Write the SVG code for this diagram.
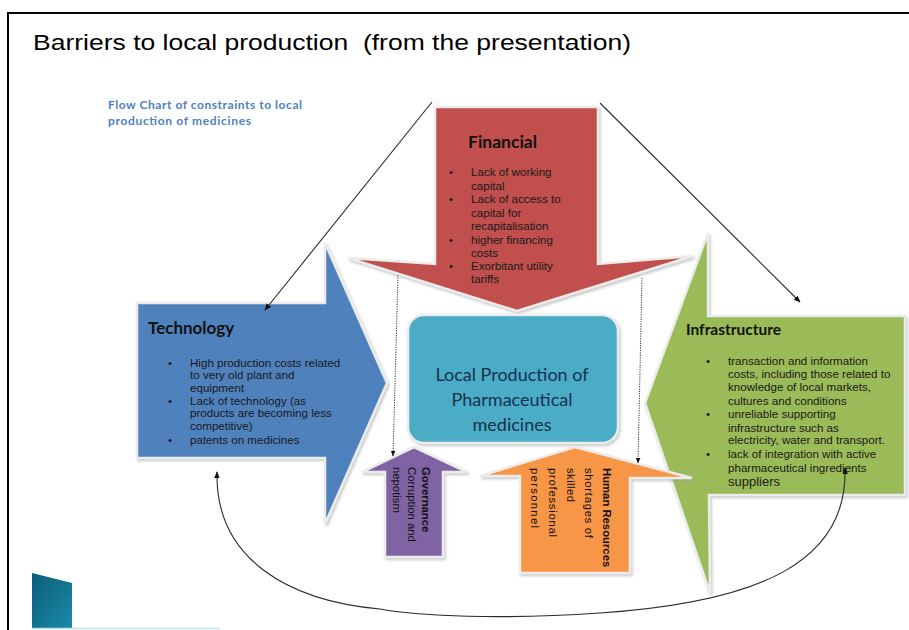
<svg xmlns="http://www.w3.org/2000/svg" width="909" height="630" viewBox="0 0 909 630">
<style>
.arial{font-family:"Liberation Sans",Arial,sans-serif;}
.cal{font-family:Lato,"Open Sans",sans-serif;}
.shape{stroke:#ececec;stroke-width:2.5;stroke-linejoin:miter;filter:url(#sh);}
.bt{font-family:"Liberation Sans",Arial,sans-serif;font-size:11.6px;fill:#1a1a1a;}
.head{font-family:Lato,"Open Sans",sans-serif;font-weight:bold;fill:#111;}
.rot{font-family:"Liberation Sans",Arial,sans-serif;font-size:11.3px;fill:#111;}
.conn{fill:none;stroke:#2a2a2a;stroke-width:1.1;}
.dot{fill:none;stroke:#333;stroke-width:1;stroke-dasharray:1.2 1.2;}
</style>
<defs>
<filter id="sh" x="-10%" y="-10%" width="130%" height="130%">
<feDropShadow dx="1.5" dy="2" stdDeviation="1" flood-color="#999" flood-opacity="0.5"/>
</filter>
<marker id="ah" viewBox="0 0 10 10" refX="9" refY="5" markerWidth="7" markerHeight="7" orient="auto-start-reverse" markerUnits="userSpaceOnUse">
<path d="M0,1 L10,5 L0,9z" fill="#111"/>
</marker>
<marker id="ahs" viewBox="0 0 10 10" refX="9" refY="5" markerWidth="6" markerHeight="6" orient="auto" markerUnits="userSpaceOnUse">
<path d="M0,1 L10,5 L0,9z" fill="#111"/>
</marker>
<linearGradient id="teal" x1="0" y1="0" x2="1" y2="1">
<stop offset="0" stop-color="#0b5d78"/>
<stop offset="1" stop-color="#1b8aa8"/>
</linearGradient>
</defs>
<rect width="909" height="630" fill="#fff"/>
<g id="frame">
<line x1="8" y1="13" x2="909" y2="13" stroke="#000" stroke-width="2"/>
<line x1="8" y1="12" x2="8" y2="630" stroke="#000" stroke-width="2"/>
</g>
<g id="title">
<text class="arial" x="33" y="50" font-size="22.5" textLength="598" lengthAdjust="spacingAndGlyphs" fill="#000">Barriers to local production&#160; (from the presentation)</text>
</g>
<g id="subtitle">
<text class="cal" x="108" y="109" font-size="12" font-weight="bold" fill="#4f81bd" textLength="194">Flow Chart of constraints to local</text>
<text class="cal" x="108" y="125" font-size="12" font-weight="bold" fill="#4f81bd" textLength="143">production of medicines</text>
</g>
<g id="logo">
<polygon points="32,573 72,583 72,628 32,628" fill="url(#teal)"/>
<line x1="32" y1="628.5" x2="220" y2="628.5" stroke="#bfe6ee" stroke-width="1.5"/>
</g>
<g id="financial">
<polygon class="shape" fill="#c0504d" points="435,107 598,107 598,264 693,256 517,311 348,258 435,264"/>
<text class="head" x="468" y="148" font-size="17.5">Financial</text>
<g class="bt">
<text x="449" y="176">•</text><text x="471" y="176">Lack of working</text>
<text x="471" y="190">capital</text>
<text x="449" y="203">•</text><text x="471" y="203">Lack of access to</text>
<text x="471" y="217">capital for</text>
<text x="471" y="230">recapitalisation</text>
<text x="449" y="244">•</text><text x="471" y="244">higher financing</text>
<text x="471" y="257">costs</text>
<text x="449" y="270">•</text><text x="471" y="270">Exorbitant utility</text>
<text x="471" y="283">tariffs</text>
</g>
</g>
<g id="technology">
<polygon class="shape" fill="#4f81bd" points="137,303 325,303 325,243 387,383 325,524 325,458 137,458"/>
<text class="head" x="148" y="334" font-size="17">Technology</text>
<g class="bt">
<text x="168" y="367">•</text><text x="190" y="367">High production costs related</text>
<text x="190" y="379">to very old plant and</text>
<text x="190" y="392">equipment</text>
<text x="168" y="405">•</text><text x="190" y="405">Lack of technology (as</text>
<text x="190" y="417">products are becoming less</text>
<text x="190" y="430">competitive)</text>
<text x="168" y="444">•</text><text x="190" y="444">patents on medicines</text>
</g>
</g>
<g id="infrastructure">
<polygon class="shape" fill="#9bbb59" points="905,316 905,495 709,495 710,593 645,403 708,233 708,316"/>
<text class="head" x="686" y="335" font-size="15.5">Infrastructure</text>
<g class="bt">
<text x="706" y="365">•</text><text x="728" y="365">transaction and information</text>
<text x="728" y="378">costs, including those related to</text>
<text x="728" y="391">knowledge of local markets,</text>
<text x="728" y="405">cultures and conditions</text>
<text x="706" y="418">•</text><text x="728" y="418">unreliable supporting</text>
<text x="728" y="432">infrastructure such as</text>
<text x="728" y="444">electricity, water and transport.</text>
<text x="706" y="458">•</text><text x="728" y="458">lack of integration with active</text>
<text x="728" y="472">pharmaceutical ingredients</text>
<text x="728" y="486" font-size="13">suppliers</text>
</g>
</g>
<g id="local-production">
<rect class="shape" x="408" y="315" width="210" height="128" rx="16" fill="#4bacc6"/>
<g class="cal" font-size="18" fill="#17304f" text-anchor="middle">
<text x="512" y="381">Local Production of</text>
<text x="512" y="406">Pharmaceutical</text>
<text x="512" y="431">medicines</text>
</g>
</g>
<g id="governance">
<polygon class="shape" fill="#8064a2" points="414,447 467,472 443,472 443,557 385,557 385,472 362,472"/>
<g transform="translate(422,467) rotate(90)">
<text class="rot" x="0" y="0" font-weight="bold">Governance</text>
<text class="rot" x="0" y="14.5">Corruption and</text>
<text class="rot" x="0" y="29">nepotism</text>
</g>
</g>
<g id="human-resources">
<polygon class="shape" fill="#f79646" points="575,447 692,478 630,478 630,573 520,573 520,476 480,476"/>
<g transform="translate(603,468) rotate(90)">
<text class="rot" x="0" y="0" font-weight="bold">Human Resources</text>
<text class="rot" x="0" y="18.5" textLength="70" lengthAdjust="spacing">shortages of</text>
<text class="rot" x="0" y="36" textLength="34" lengthAdjust="spacing">skilled</text>
<text class="rot" x="0" y="54" textLength="69" lengthAdjust="spacing">professional</text>
<text class="rot" x="0" y="72" textLength="60" lengthAdjust="spacing">personnel</text>
</g>
</g>
<g id="connectors">
<line class="conn" x1="432" y1="102" x2="265" y2="310" marker-end="url(#ah)"/>
<line class="conn" x1="600" y1="103" x2="800" y2="302" marker-end="url(#ah)"/>
<line class="dot" x1="398" y1="275" x2="393" y2="456" marker-end="url(#ahs)"/>
<line class="dot" x1="642" y1="278" x2="638" y2="463" marker-end="url(#ahs)"/>
<path class="conn" d="M845,468 C848,562 760,602 600,613 C500,620 420,616 380,609 C290,601 215,560 217,472" marker-start="url(#ah)" marker-end="url(#ah)"/>
</g>
</svg>
